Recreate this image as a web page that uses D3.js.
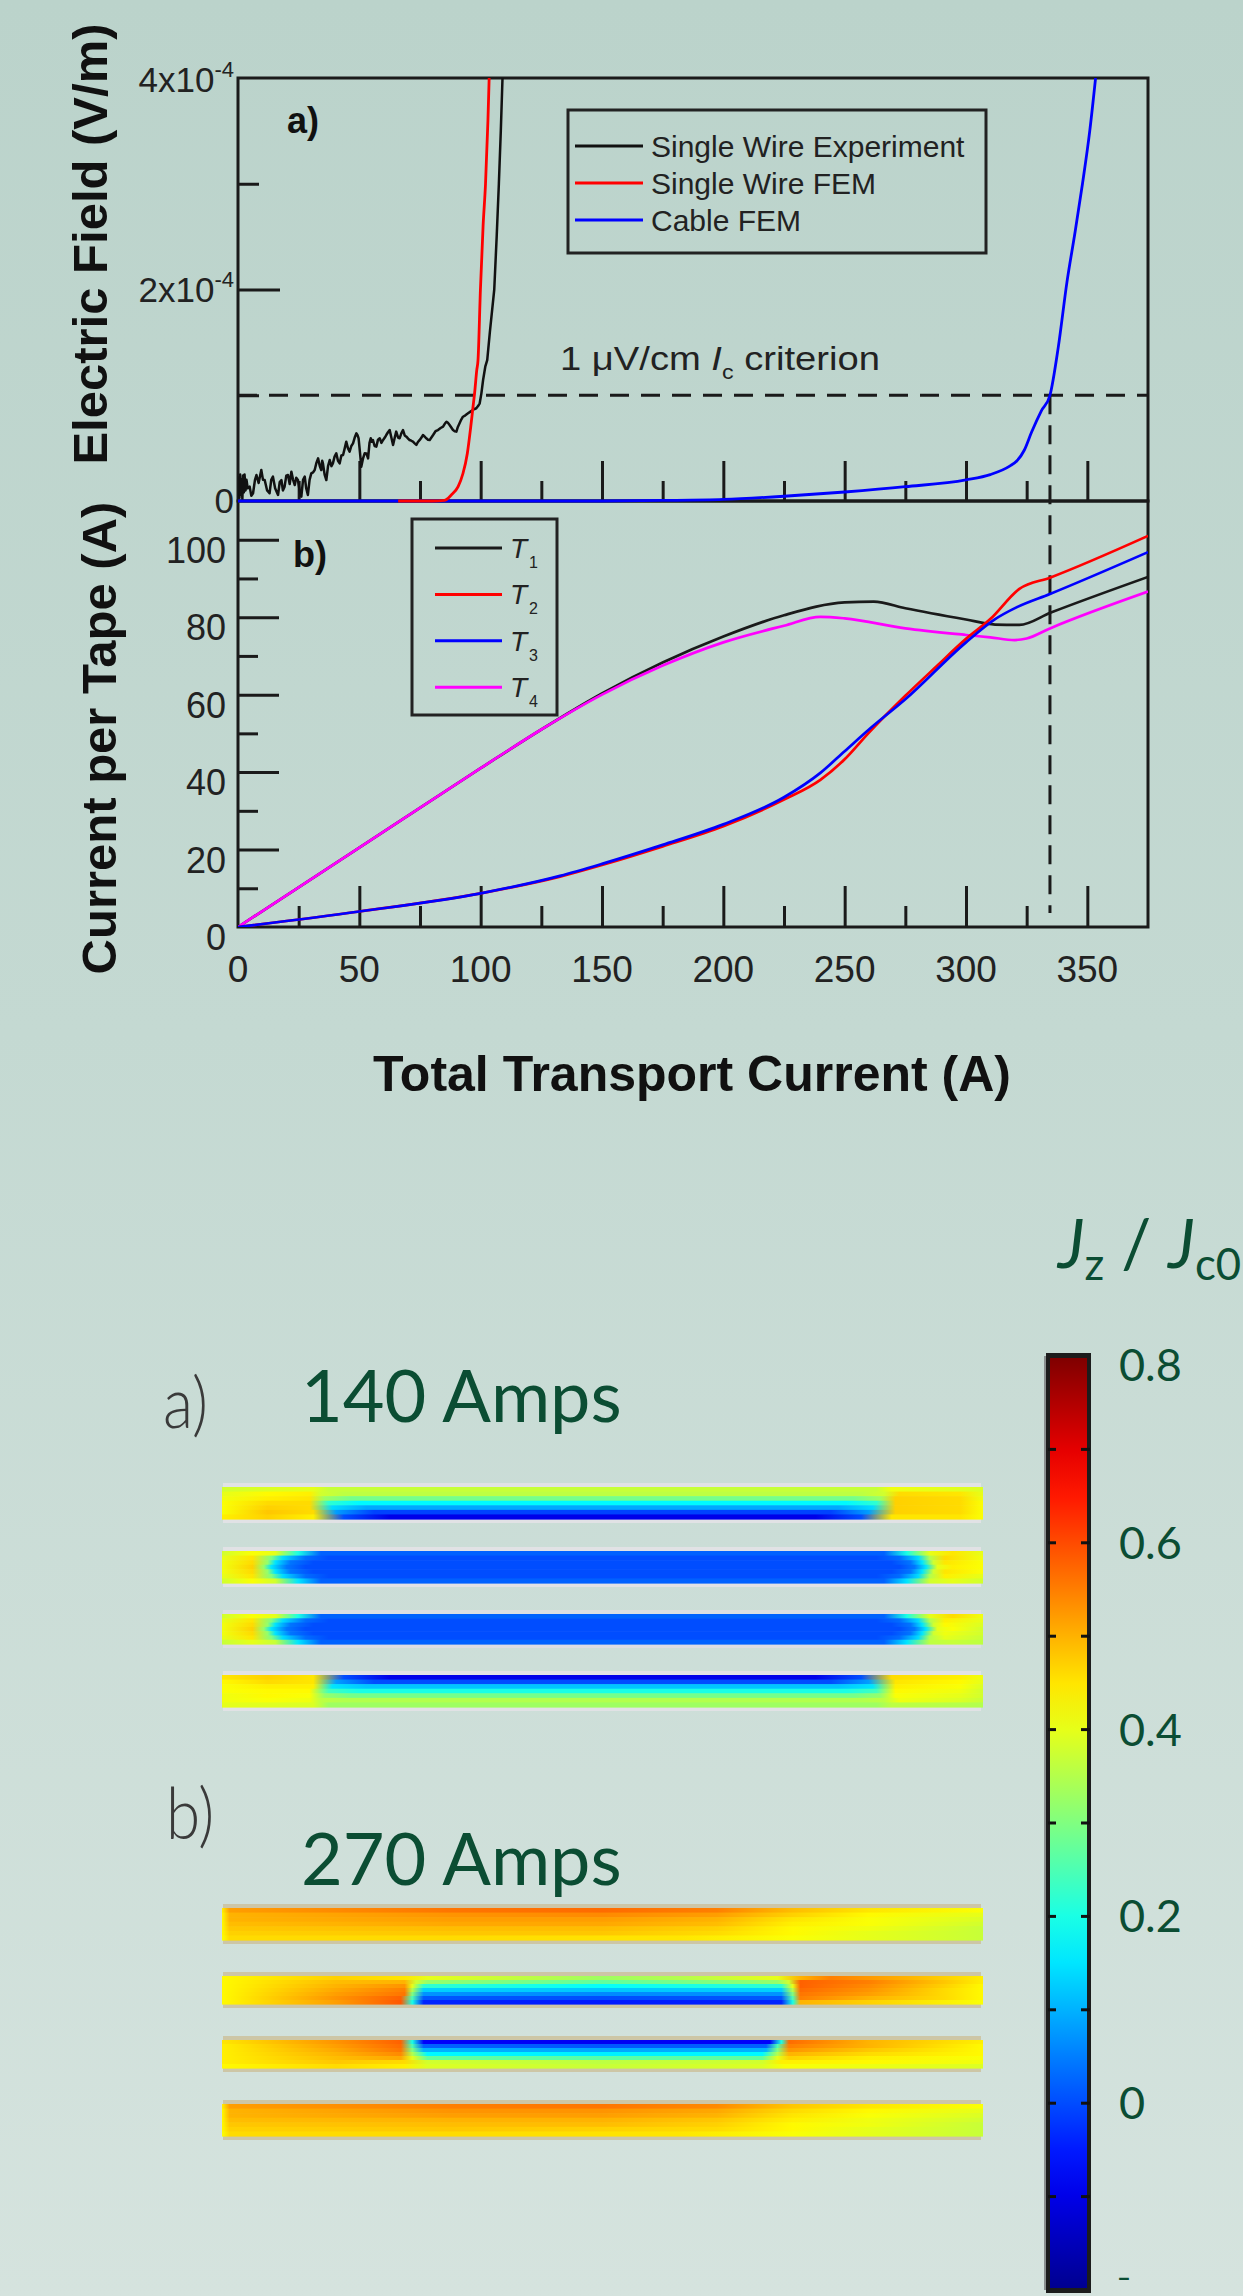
<!DOCTYPE html>
<html><head><meta charset="utf-8">
<script src="https://cdn.jsdelivr.net/npm/d3@7"></script>
<style>html,body{margin:0;padding:0;background:#c8dcd5}svg{display:block}</style>
</head><body>
<svg id="chart" width="1243" height="2296"></svg>
<script>
// ---------------- DATA ----------------
// Panel a) electric field, E in units of 1e-4 V/m vs total transport current (A)
const wireExperiment = [[0,0.05],[0.3,0.22],[0.6,0.03],[0.9,0.25],[1.2,0.06],[1.5,0.2],[1.8,0.02],[2.1,0.24],[2.4,0.08],[2.7,0.25],[3.1,0.1],[3.5,0.2],[4.0,0.12],
[4.8,0.136],[5.5,0.05],[6.2,0.073],[7.0,0.2],[7.6,0.246],[8.5,0.17],[9.6,0.293],[10.3,0.2],[11,0.198],[12,0.1],[13,0.073],[13.7,0.2],[14.4,0.23],[15.3,0.12],[16.5,0.057],[17.2,0.18],[17.9,0.198],[18.5,0.1],[19.2,0.136],[19.9,0.24],[20.6,0.246],[21.3,0.16],[22,0.277],[22.7,0.2],[23.4,0.151],[24,0.22],[24.7,0.198],[25.4,0.1],[26.1,0.041],[26.8,0.2],[27.5,0.23],[28.1,0.12],[28.8,0.057],[29.5,0.2],[30.2,0.261],[30.9,0.27],[31.6,0.293],[32.3,0.36],[33,0.403],[33.7,0.33],[34.3,0.293],[34.7,0.38],[35,0.356],[35.7,0.25],[36.4,0.198],[37.1,0.33],[37.8,0.388],[38.5,0.33],[39.1,0.356],[39.8,0.42],[40.5,0.451],[41.2,0.38],[41.9,0.356],[42.6,0.43],[43.3,0.435],[44,0.5],[44.6,0.561],[45.3,0.5],[46,0.466],[46.7,0.52],[47.4,0.545],[48.1,0.6],[48.8,0.64],[49.3,0.62],[49.7,0.593],[50.3,0.45],[50.8,0.325],[51.5,0.4],[52.2,0.451],[52.9,0.45],[53.6,0.403],[54.2,0.55],[54.7,0.593],[55.2,0.56],[55.6,0.577],[56.3,0.52],[57,0.514],[57.7,0.58],[58.4,0.593],[59.1,0.55],[59.8,0.577],[60.5,0.6],[61.1,0.624],[61.8,0.65],[62.5,0.671],[63.2,0.6],[63.9,0.53],[64.6,0.6],[65.2,0.656],[66,0.6],[66.6,0.593],[67.3,0.64],[68,0.671],[68.7,0.62],[69.4,0.608],[70.1,0.59],[70.7,0.577],[71.4,0.57],[72.1,0.561],[72.8,0.545],[73.5,0.53],[74.2,0.56],[74.9,0.577],[75.6,0.6],[76.2,0.624],[76.9,0.61],[77.6,0.593],[78.3,0.58],[79,0.577],[79.7,0.6],[80.4,0.624],[81.4,0.66],[82.4,0.671],[83.5,0.69],[84.5,0.703],[85.2,0.73],[85.9,0.75],[86.5,0.74],[87.2,0.719],[88.6,0.671],[89.3,0.66],[90,0.656],[90.6,0.7],[91.3,0.735],[92,0.77],[92.7,0.797],[93.7,0.81],[94.8,0.829],[95.8,0.845],[96.8,0.861],[97.5,0.87],[98.2,0.877],[99,0.9],[99.6,0.924],[100.3,1.018],[101,1.144],[101.9,1.27],[102.7,1.333],[103.8,1.6],[105.6,2.0],[106.6,2.5],[107.5,3.0],[108.3,3.5],[109,4.0]];
const wireFEM = [[66,0],[80,0],[85,0.005],[87.9,0.057],[90.7,0.136],[92.7,0.26],[94.5,0.45],[95.9,0.70],[96.8,0.88],[97.5,1.02],[98.4,1.24],[98.9,1.33],[99.9,2.0],[101,2.6],[102,3.0],[103,3.6],[103.5,4.0]];
const cableFEM = [[0,0],[150,0],[175,0.005],[200,0.015],[225,0.045],[250,0.085],[275,0.135],[300,0.2],[310,0.25],[318,0.33],[321,0.38],[324,0.48],[327,0.65],[331,0.85],[334.6,1.0],[338,1.45],[341.6,2.07],[345,2.55],[348,3.0],[351,3.5],[353.4,4.0]];
const criterionField = 1.0;      // 1 uV/cm = 1e-4 V/m
const cableIc = 334.6;           // A

// Panel b) current per tape (A)
const tapeT1 = [[0,0],[50,20.5],[100,41],[125,51],[150,60.3],[175,68.3],[200,75],[225,80.5],[250,83.8],[262,84],[275,82.3],[300,79.4],[312,78.1],[322,78],[335,81.2],[375,90.4]];
const tapeT2 = [[0,0],[50,4],[100,8.7],[132.7,13],[150,16],[175,20.8],[200,26],[225,32.9],[240,38],[250,43.3],[260,50.2],[275,59.7],[288,67.4],[300,74.4],[310,79.5],[322,87.3],[334.6,90.2],[375,101]];
const tapeT3 = [[0,0],[50,4],[100,8.7],[132.7,13.2],[150,16.3],[175,21.2],[200,26.5],[225,33.5],[240,39.8],[250,45.4],[260,51],[275,58.8],[300,73.5],[312,79.5],[321,82.6],[334.6,86],[375,96.8]];
const tapeT4 = [[0,0],[50,20.5],[100,41],[125,51],[150,60],[175,67.5],[200,73.5],[225,77.8],[240,80.1],[250,79.7],[275,77.1],[300,75.4],[310,74.8],[320,74.1],[325,74.5],[334.6,77.1],[375,86.6]];

const currentMajorTicks = [50,100,150,200,250,300,350];
const currentMinorTicks = [25,75,125,175,225,275,325];
const currentTickLabels = [0,50,100,150,200,250,300,350];
const fieldMajorTicks = [2];
const fieldMinorTicks = [1,3];
const fieldTickLabels = [["4x10","-4",4],["2x10","-4",2],["0","",0]];
const tapeMajorTicks = [20,40,60,80,100];
const tapeMinorTicks = [10,30,50,70,90];
const tapeTickLabels = [0,20,40,60,80,100];

const legendA = ["Single Wire Experiment","Single Wire FEM","Cable FEM"];
const legendAColors = ["#111111","#ff0000","#0000ff"];
const legendB = ["1","2","3","4"];
const tapeColors = ["#1a1a1a","#ff0000","#0000ff","#ff00ff"];

// Bottom: Jz/Jc0 maps (rows top->bottom, each row: [fraction along tape, Jz/Jc0])
const map140_T1 = [
 [[0,0.38],[0.12,0.40],[0.14,0.37],[0.86,0.37],[0.88,0.41],[1,0.39]],
 [[0,0.40],[0.06,0.43],[0.115,0.44],[0.13,0.38],[0.16,0.36],[0.84,0.36],[0.87,0.38],[0.89,0.46],[0.97,0.45],[1,0.40]],
 [[0,0.41],[0.06,0.44],[0.115,0.45],[0.135,0.33],[0.17,0.29],[0.83,0.29],[0.865,0.33],[0.885,0.47],[0.97,0.46],[1,0.41]],
 [[0,0.42],[0.06,0.46],[0.115,0.46],[0.14,0.22],[0.18,0.17],[0.82,0.17],[0.86,0.22],[0.885,0.47],[0.97,0.46],[1,0.42]],
 [[0,0.42],[0.06,0.47],[0.115,0.46],[0.145,0.14],[0.19,0.09],[0.81,0.09],[0.855,0.14],[0.885,0.47],[0.97,0.46],[1,0.42]],
 [[0,0.42],[0.06,0.48],[0.12,0.46],[0.15,0.08],[0.2,-0.01],[0.8,-0.01],[0.85,0.08],[0.885,0.47],[0.97,0.46],[1,0.42]],
 [[0,0.44],[0.06,0.47],[0.12,0.44],[0.16,0.0],[0.22,-0.1],[0.78,-0.1],[0.84,0.0],[0.88,0.45],[0.97,0.45],[1,0.42]]];
const map140_T2 = [
 [[0,0.38],[0.04,0.42],[0.07,0.40],[0.1,0.2],[0.13,0.02],[0.87,0.02],[0.9,0.2],[0.93,0.40],[0.96,0.45],[1,0.40]],
 [[0,0.40],[0.04,0.45],[0.065,0.30],[0.08,0.14],[0.11,0.03],[0.14,0.0],[0.86,0.0],[0.89,0.03],[0.915,0.14],[0.93,0.35],[0.95,0.46],[1,0.41]],
 [[0,0.41],[0.04,0.46],[0.06,0.32],[0.07,0.15],[0.09,0.04],[0.12,0.0],[0.88,0.0],[0.905,0.04],[0.92,0.15],[0.935,0.38],[0.95,0.45],[1,0.42]],
 [[0,0.41],[0.04,0.47],[0.055,0.32],[0.065,0.15],[0.085,0.04],[0.11,0.0],[0.89,0.0],[0.91,0.04],[0.925,0.15],[0.94,0.40],[0.96,0.44],[1,0.42]],
 [[0,0.41],[0.04,0.46],[0.06,0.32],[0.07,0.15],[0.09,0.04],[0.12,0.0],[0.88,0.0],[0.905,0.04],[0.92,0.15],[0.935,0.38],[0.95,0.45],[1,0.42]],
 [[0,0.40],[0.04,0.45],[0.065,0.30],[0.08,0.14],[0.11,0.03],[0.14,0.0],[0.86,0.0],[0.89,0.03],[0.915,0.14],[0.93,0.35],[0.95,0.44],[1,0.40]],
 [[0,0.38],[0.04,0.42],[0.07,0.38],[0.1,0.15],[0.13,0.02],[0.87,0.02],[0.9,0.15],[0.93,0.38],[0.96,0.40],[1,0.38]]];
const map140_T3 = [
 [[0,0.38],[0.04,0.42],[0.07,0.40],[0.1,0.2],[0.13,0.02],[0.87,0.02],[0.9,0.2],[0.93,0.40],[0.96,0.46],[1,0.41]],
 [[0,0.40],[0.04,0.45],[0.065,0.30],[0.08,0.14],[0.11,0.03],[0.14,0.0],[0.86,0.0],[0.89,0.03],[0.915,0.14],[0.93,0.35],[0.95,0.44],[1,0.40]],
 [[0,0.41],[0.04,0.46],[0.06,0.32],[0.07,0.15],[0.09,0.04],[0.12,0.0],[0.88,0.0],[0.905,0.04],[0.92,0.15],[0.935,0.38],[0.95,0.43],[1,0.39]],
 [[0,0.41],[0.04,0.47],[0.055,0.32],[0.065,0.15],[0.085,0.04],[0.11,0.0],[0.89,0.0],[0.91,0.04],[0.925,0.15],[0.94,0.40],[0.96,0.42],[1,0.38]],
 [[0,0.41],[0.04,0.46],[0.06,0.32],[0.07,0.15],[0.09,0.04],[0.12,0.0],[0.88,0.0],[0.905,0.04],[0.92,0.15],[0.935,0.38],[0.95,0.41],[1,0.38]],
 [[0,0.40],[0.04,0.45],[0.065,0.30],[0.08,0.14],[0.11,0.03],[0.14,0.0],[0.86,0.0],[0.89,0.03],[0.915,0.14],[0.93,0.35],[0.95,0.40],[1,0.37]],
 [[0,0.37],[0.04,0.40],[0.07,0.37],[0.1,0.15],[0.13,0.02],[0.87,0.02],[0.9,0.15],[0.93,0.36],[0.96,0.37],[1,0.36]]];
const map140_T4 = [
 [[0,0.45],[0.06,0.47],[0.12,0.45],[0.16,0.0],[0.22,-0.1],[0.78,-0.1],[0.84,0.0],[0.88,0.46],[0.97,0.44],[1,0.41]],
 [[0,0.43],[0.06,0.46],[0.12,0.45],[0.15,0.08],[0.2,0.0],[0.8,0.0],[0.85,0.08],[0.885,0.45],[0.97,0.43],[1,0.40]],
 [[0,0.42],[0.06,0.44],[0.12,0.44],[0.145,0.15],[0.19,0.12],[0.81,0.12],[0.855,0.15],[0.885,0.44],[0.97,0.42],[1,0.39]],
 [[0,0.42],[0.06,0.43],[0.115,0.43],[0.14,0.24],[0.18,0.2],[0.82,0.2],[0.86,0.24],[0.885,0.43],[0.97,0.41],[1,0.38]],
 [[0,0.41],[0.06,0.43],[0.115,0.42],[0.135,0.32],[0.17,0.29],[0.83,0.29],[0.865,0.32],[0.885,0.42],[0.97,0.40],[1,0.38]],
 [[0,0.41],[0.06,0.42],[0.115,0.41],[0.13,0.36],[0.16,0.35],[0.84,0.35],[0.87,0.36],[0.89,0.41],[0.97,0.39],[1,0.37]],
 [[0,0.40],[0.12,0.39],[0.14,0.33],[0.86,0.33],[0.88,0.36],[1,0.35]]];
const map270_T1 = [
 [[0,0.44],[0.01,0.52],[0.3,0.56],[0.5,0.57],[0.65,0.55],[0.75,0.49],[0.85,0.45],[1,0.42]],
 [[0,0.43],[0.01,0.5],[0.3,0.53],[0.5,0.54],[0.65,0.52],[0.75,0.47],[0.85,0.43],[1,0.40]],
 [[0,0.43],[0.01,0.5],[0.3,0.52],[0.5,0.52],[0.65,0.5],[0.75,0.45],[0.85,0.42],[1,0.39]],
 [[0,0.43],[0.01,0.49],[0.3,0.51],[0.5,0.51],[0.65,0.49],[0.75,0.44],[0.85,0.42],[1,0.38]],
 [[0,0.43],[0.01,0.48],[0.3,0.49],[0.5,0.49],[0.65,0.47],[0.75,0.43],[0.85,0.41],[1,0.37]],
 [[0,0.43],[0.01,0.47],[0.3,0.48],[0.5,0.48],[0.65,0.46],[0.75,0.43],[0.85,0.40],[1,0.37]],
 [[0,0.42],[0.01,0.46],[0.3,0.46],[0.6,0.45],[0.75,0.42],[1,0.37]]];
const map270_T2 = [
 [[0,0.43],[0.15,0.47],[0.24,0.45],[0.27,0.40],[0.4,0.36],[0.5,0.33],[0.6,0.35],[0.73,0.40],[0.76,0.50],[0.8,0.55],[0.9,0.5],[1,0.44]],
 [[0,0.43],[0.15,0.49],[0.24,0.5],[0.255,0.38],[0.27,0.32],[0.5,0.27],[0.73,0.32],[0.745,0.38],[0.76,0.58],[0.85,0.55],[0.95,0.48],[1,0.44]],
 [[0,0.43],[0.15,0.5],[0.24,0.53],[0.25,0.4],[0.265,0.22],[0.5,0.18],[0.735,0.22],[0.75,0.4],[0.76,0.58],[0.85,0.54],[0.95,0.47],[1,0.43]],
 [[0,0.43],[0.15,0.51],[0.24,0.55],[0.25,0.35],[0.265,0.13],[0.5,0.12],[0.735,0.13],[0.75,0.35],[0.76,0.57],[0.85,0.53],[0.95,0.46],[1,0.43]],
 [[0,0.43],[0.15,0.52],[0.24,0.56],[0.25,0.3],[0.265,0.07],[0.5,0.06],[0.735,0.07],[0.75,0.3],[0.76,0.56],[0.85,0.52],[0.95,0.46],[1,0.43]],
 [[0,0.43],[0.15,0.53],[0.235,0.58],[0.25,0.25],[0.265,0.01],[0.5,0.0],[0.735,0.01],[0.75,0.25],[0.76,0.55],[0.85,0.5],[0.95,0.46],[1,0.43]],
 [[0,0.43],[0.15,0.52],[0.235,0.59],[0.25,0.2],[0.265,-0.04],[0.5,-0.05],[0.735,-0.04],[0.75,0.2],[0.76,0.5],[0.85,0.47],[1,0.42]]];
const map270_T3 = [
 [[0,0.45],[0.15,0.53],[0.235,0.58],[0.25,0.2],[0.265,-0.08],[0.5,-0.09],[0.72,-0.08],[0.735,0.2],[0.745,0.57],[0.85,0.5],[1,0.44]],
 [[0,0.44],[0.15,0.52],[0.235,0.57],[0.25,0.25],[0.265,0.02],[0.5,0.01],[0.715,0.02],[0.73,0.25],[0.745,0.55],[0.85,0.5],[1,0.43]],
 [[0,0.44],[0.15,0.51],[0.235,0.56],[0.25,0.3],[0.265,0.1],[0.5,0.09],[0.715,0.1],[0.73,0.3],[0.745,0.53],[0.85,0.48],[1,0.43]],
 [[0,0.44],[0.15,0.5],[0.235,0.54],[0.25,0.35],[0.27,0.17],[0.5,0.16],[0.71,0.17],[0.73,0.35],[0.745,0.5],[0.85,0.46],[1,0.43]],
 [[0,0.44],[0.15,0.49],[0.235,0.51],[0.25,0.4],[0.27,0.27],[0.5,0.26],[0.71,0.27],[0.73,0.4],[0.745,0.47],[0.85,0.44],[1,0.42]],
 [[0,0.44],[0.15,0.48],[0.24,0.46],[0.27,0.38],[0.5,0.36],[0.71,0.38],[0.735,0.44],[0.85,0.43],[1,0.41]],
 [[0,0.43],[0.15,0.46],[0.24,0.44],[0.27,0.39],[0.5,0.37],[0.71,0.39],[0.74,0.42],[1,0.39]]];
const map270_T4 = [
 [[0,0.44],[0.01,0.52],[0.3,0.55],[0.5,0.56],[0.65,0.54],[0.75,0.48],[0.85,0.45],[1,0.42]],
 [[0,0.43],[0.01,0.5],[0.3,0.53],[0.5,0.53],[0.65,0.51],[0.75,0.46],[0.85,0.43],[1,0.40]],
 [[0,0.43],[0.01,0.5],[0.3,0.52],[0.5,0.52],[0.65,0.5],[0.75,0.45],[0.85,0.42],[1,0.39]],
 [[0,0.43],[0.01,0.49],[0.3,0.5],[0.5,0.5],[0.65,0.48],[0.75,0.44],[0.85,0.41],[1,0.38]],
 [[0,0.43],[0.01,0.48],[0.3,0.49],[0.5,0.49],[0.65,0.47],[0.75,0.43],[0.85,0.41],[1,0.37]],
 [[0,0.43],[0.01,0.47],[0.3,0.48],[0.5,0.47],[0.65,0.46],[0.75,0.43],[0.85,0.40],[1,0.37]],
 [[0,0.42],[0.01,0.46],[0.3,0.46],[0.6,0.45],[0.75,0.42],[1,0.37]]];
const colorbarTicks = [-0.1,0,0.1,0.2,0.3,0.4,0.5,0.6,0.7];
const colorbarLabels = [["0.8",0.8],["0.6",0.6],["0.4",0.4],["0.2",0.2],["0",0]];
const colorbarCutLabel = "\u2013";   // cut-off "-0.2" label at the bottom edge
const mapTitles = ["140 Amps","270 Amps"];

// ---------------- DRAW ----------------
const svg = d3.select("#chart");
const defs = svg.append("defs");
const bg = defs.append("linearGradient").attr("id","bg").attr("x1",0).attr("x2",0).attr("y1",0).attr("y2",1);
bg.append("stop").attr("offset","0%").attr("stop-color","#bbd3cb");
bg.append("stop").attr("offset","45%").attr("stop-color","#c4d9d2");
bg.append("stop").attr("offset","100%").attr("stop-color","#d5e3de");
svg.append("rect").attr("width",1243).attr("height",2296).attr("fill","url(#bg)");

const ARIAL = "'Liberation Sans', Arial, sans-serif";
const INK = "#1a1a1a";
const x = d3.scaleLinear().domain([0,375]).range([238,1148]);
const yA = d3.scaleLinear().domain([0,4]).range([501,78]);
const yB = d3.scaleLinear().domain([0,110]).range([927,501]);

defs.append("clipPath").attr("id","clipA").append("rect").attr("x",238).attr("y",78).attr("width",910).attr("height",425);
defs.append("clipPath").attr("id","clipB").append("rect").attr("x",238).attr("y",501).attr("width",910).attr("height",426);

function styleAxis(g){ g.select(".domain").remove(); g.selectAll(".tick line").attr("stroke",INK).attr("stroke-width",3); }

// panel a ticks
svg.append("g").attr("transform","translate(0,501)").call(d3.axisBottom(x).tickValues(currentMajorTicks).tickSize(-40).tickFormat("")).call(styleAxis);
svg.append("g").attr("transform","translate(0,501)").call(d3.axisBottom(x).tickValues(currentMinorTicks).tickSize(-20).tickFormat("")).call(styleAxis);
svg.append("g").attr("transform","translate(238,0)").call(d3.axisLeft(yA).tickValues(fieldMajorTicks).tickSize(-42).tickFormat("")).call(styleAxis);
svg.append("g").attr("transform","translate(238,0)").call(d3.axisLeft(yA).tickValues(fieldMinorTicks).tickSize(-21).tickFormat("")).call(styleAxis);
// panel b ticks
svg.append("g").attr("transform","translate(0,927)").call(d3.axisBottom(x).tickValues(currentMajorTicks).tickSize(-41).tickFormat("")).call(styleAxis);
svg.append("g").attr("transform","translate(0,927)").call(d3.axisBottom(x).tickValues(currentMinorTicks).tickSize(-21).tickFormat("")).call(styleAxis);
svg.append("g").attr("transform","translate(238,0)").call(d3.axisLeft(yB).tickValues(tapeMajorTicks).tickSize(-41).tickFormat("")).call(styleAxis);
svg.append("g").attr("transform","translate(238,0)").call(d3.axisLeft(yB).tickValues(tapeMinorTicks).tickSize(-20).tickFormat("")).call(styleAxis);

// tick labels
const xl = svg.append("g").attr("font-family",ARIAL).attr("font-size",37).attr("fill","#222");
xl.selectAll("text").data(currentTickLabels).join("text").attr("x",d=>x(d)).attr("y",982).attr("text-anchor","middle").text(d=>d);
const bl = svg.append("g").attr("font-family",ARIAL).attr("font-size",36).attr("fill","#222");
bl.selectAll("text").data(tapeTickLabels).join("text").attr("x",226).attr("y",d=>yB(d)+23).attr("text-anchor","end").text(d=>d);
const al = svg.append("g").attr("font-family",ARIAL).attr("fill","#222");
fieldTickLabels.forEach(([m,e,v])=>{
  const t = al.append("text").attr("x",234).attr("y",yA(v)+ (v===0?12:(v===4?14:12))).attr("text-anchor","end").attr("font-size",35);
  t.append("tspan").text(m);
  if(e) t.append("tspan").attr("font-size",22).attr("dy",-15).text(e);
});

// frames (curves drawn over them, as in the original)
svg.append("rect").attr("x",238).attr("y",78).attr("width",910).attr("height",423).attr("fill","none").attr("stroke",INK).attr("stroke-width",3);
svg.append("rect").attr("x",238).attr("y",501).attr("width",910).attr("height",426).attr("fill","none").attr("stroke",INK).attr("stroke-width",3);

// criterion dashed lines
svg.append("line").attr("x1",x(0)).attr("x2",x(375)).attr("y1",yA(criterionField)).attr("y2",yA(criterionField))
  .attr("stroke",INK).attr("stroke-width",3).attr("stroke-dasharray","19,12");
svg.append("line").attr("x1",x(cableIc)).attr("x2",x(cableIc)).attr("y1",yA(criterionField)).attr("y2",913)
  .attr("stroke",INK).attr("stroke-width",3).attr("stroke-dasharray","19,11");

// panel a curves
const lineA = d3.line().x(d=>x(d[0])).y(d=>yA(d[1]));
const gA = svg.append("g").attr("clip-path","url(#clipA)").attr("fill","none");
gA.append("path").datum(wireExperiment).attr("d",lineA).attr("stroke","#111").attr("stroke-width",2.5).attr("stroke-linejoin","round");
gA.append("path").datum(cableFEM).attr("d",lineA.curve(d3.curveMonotoneX)).attr("stroke","#0000ff").attr("stroke-width",2.8);
gA.append("path").datum(wireFEM).attr("d",lineA.curve(d3.curveMonotoneX)).attr("stroke","#ff0000").attr("stroke-width",2.8);

// panel b curves
const lineB = d3.line().x(d=>x(d[0])).y(d=>yB(d[1])).curve(d3.curveMonotoneX);
const gB = svg.append("g").attr("clip-path","url(#clipB)").attr("fill","none");
[[tapeT1,tapeColors[0]],[tapeT4,tapeColors[3]],[tapeT2,tapeColors[1]],[tapeT3,tapeColors[2]]].forEach(([s,c])=>{
  gB.append("path").datum(s).attr("d",lineB).attr("stroke",c).attr("stroke-width",2.7);
});

// criterion text
const crit = svg.append("text").attr("font-family",ARIAL).attr("font-size",33).attr("fill","#222")
  .attr("transform","translate(560,370)");
crit.append("tspan").text("1 \u03BCV/cm ");
crit.append("tspan").attr("font-style","italic").text("I");
crit.append("tspan").attr("font-size",20).attr("dy",9).text("c");
crit.append("tspan").attr("dy",-9).text(" criterion");
{ const w = crit.node().getComputedTextLength(); crit.attr("transform",`translate(560,370) scale(${320/w},1)`); }

// panel labels
svg.append("text").attr("x",287).attr("y",133).attr("font-family",ARIAL).attr("font-weight","bold").attr("font-size",36).attr("fill","#111").text("a)");
svg.append("text").attr("x",293).attr("y",567).attr("font-family",ARIAL).attr("font-weight","bold").attr("font-size",36).attr("fill","#111").text("b)");

// legend a
svg.append("rect").attr("x",568).attr("y",110).attr("width",418).attr("height",143).attr("fill","none").attr("stroke","#222").attr("stroke-width",3);
legendA.forEach((t,i)=>{
  const yy = 146 + i*37;
  svg.append("line").attr("x1",575).attr("x2",643).attr("y1",yy).attr("y2",yy).attr("stroke",legendAColors[i]).attr("stroke-width",3);
  svg.append("text").attr("x",651).attr("y",yy+11).attr("font-family",ARIAL).attr("font-size",30).attr("fill","#222").text(t);
});
// legend b
svg.append("rect").attr("x",412).attr("y",519).attr("width",145).attr("height",196).attr("fill","none").attr("stroke","#222").attr("stroke-width",3);
legendB.forEach((t,i)=>{
  const yy = 548 + i*46.4;
  svg.append("line").attr("x1",435).attr("x2",502).attr("y1",yy).attr("y2",yy).attr("stroke",tapeColors[i]).attr("stroke-width",3);
  const tx = svg.append("text").attr("x",510).attr("y",yy+10).attr("font-family",ARIAL).attr("font-size",28).attr("fill","#222");
  tx.append("tspan").attr("font-style","italic").text("T");
  tx.append("tspan").attr("font-size",16).attr("dy",10).attr("dx",2).text(t);
});

// axis titles
const titleStyle = s=>s.attr("font-family",ARIAL).attr("font-weight","bold").attr("font-size",49).attr("fill","#111").attr("text-anchor","middle");
svg.append("text").attr("transform","translate(107,244) rotate(-90)").call(titleStyle).text("Electric Field (V/m)");
svg.append("text").attr("transform","translate(116,738) rotate(-90)").call(titleStyle).text("Current per Tape (A)");
svg.append("text").attr("x",692).attr("y",1091).call(titleStyle).attr("font-size",50).text("Total Transport Current (A)");

// ---------------- bottom maps ----------------
const jet = d3.scaleLinear()
  .domain([-0.2,-0.075,0.175,0.425,0.675,0.8])
  .range(["#000090","#0000ff","#00ffff","#ffff00","#ff0000","#800000"]).clamp(true);
const tapeX = d3.scaleLinear().domain([0,1]).range([222,983]);
function drawStrip(rows,y0,y1,frameColor,key){
  svg.append("rect").attr("x",223).attr("y",y0-4).attr("width",758).attr("height",y1-y0+8).attr("fill",frameColor);
  const rh = (y1-y0)/rows.length;
  rows.forEach((row,i)=>{
    const gid = key+"-"+i;
    const g = defs.append("linearGradient").attr("id",gid).attr("x1","0%").attr("x2","100%").attr("y1","0%").attr("y2","0%");
    row.forEach(([f,v])=>g.append("stop").attr("offset",(f*100)+"%").attr("stop-color",jet(v)));
    svg.append("rect").attr("x",tapeX(0)).attr("y",y0+i*rh).attr("width",tapeX(1)-tapeX(0)).attr("height",rh+0.6).attr("fill",`url(#${gid})`);
  });
}
drawStrip(map140_T1,1487,1519,"#e1e2e5","a1");
drawStrip(map140_T2,1551,1583,"#e1e2e5","a2");
drawStrip(map140_T3,1614,1644,"#dcdde2","a3");
drawStrip(map140_T4,1675,1707,"#e1e2e5","a4");
drawStrip(map270_T1,1908,1940,"#cdc6a6","b1");
drawStrip(map270_T2,1976,2004,"#cdc6a6","b2");
drawStrip(map270_T3,2040,2068,"#cdc6a6","b3");
drawStrip(map270_T4,2104,2136,"#cdc6a6","b4");

const GREEN = "#0b4d33";
const LATO = "Lato, 'Open Sans', sans-serif";
svg.append("text").attr("x",301).attr("y",1422).attr("font-family",LATO).attr("font-size",72).attr("fill",GREEN).text(mapTitles[0]);
svg.append("text").attr("x",301).attr("y",1885).attr("font-family",LATO).attr("font-size",72).attr("fill",GREEN).text(mapTitles[1]);
svg.append("text").attr("transform","translate(163,1428) scale(1,1.15)").attr("font-family",LATO).attr("font-weight",300).attr("font-size",62).attr("fill","#3a3a3a").text("a)");
svg.append("text").attr("transform","translate(166,1839) scale(1,1.15)").attr("font-family",LATO).attr("font-weight",300).attr("font-size",62).attr("fill","#3a3a3a").text("b)");
svg.append("text").attr("transform","translate(-9,1836) scale(1,1.15)").attr("font-family",LATO).attr("font-weight",300).attr("font-size",62).attr("fill","#2a2a2a").text("l");

// colorbar
const cb = d3.scaleLinear().domain([-0.2,0.8]).range([2290,1356]);
const cbg = defs.append("linearGradient").attr("id","cbg").attr("x1",0).attr("x2",0).attr("y1",1).attr("y2",0);
d3.range(0,1.0001,0.05).forEach(t=>cbg.append("stop").attr("offset",(t*100)+"%").attr("stop-color",jet(-0.2+t)));
svg.append("rect").attr("x",1046).attr("y",cb(0.8)-3).attr("width",45).attr("height",cb(-0.2)-cb(0.8)+6).attr("fill","#1c1c1c");
svg.append("rect").attr("x",1050).attr("y",cb(0.8)+2).attr("width",37).attr("height",cb(-0.2)-cb(0.8)-4).attr("fill","url(#cbg)");
svg.append("line").attr("x1",1045).attr("x2",1045).attr("y1",cb(0.8)).attr("y2",cb(-0.2)).attr("stroke","#8a8f8f").attr("stroke-width",2);
colorbarTicks.forEach(v=>{
  svg.append("line").attr("x1",1048).attr("x2",1056).attr("y1",cb(v)).attr("y2",cb(v)).attr("stroke","#111").attr("stroke-width",3);
  svg.append("line").attr("x1",1081).attr("x2",1090).attr("y1",cb(v)).attr("y2",cb(v)).attr("stroke","#111").attr("stroke-width",3);
});
colorbarLabels.forEach(([t,v])=>{
  const yy = Math.max(cb(v),1365);
  svg.append("text").attr("x",1119).attr("y",yy+16).attr("font-family",LATO).attr("font-size",45).attr("fill",GREEN).text(t);
});
svg.append("text").attr("x",1117).attr("y",2286).attr("font-family",LATO).attr("font-weight",700).attr("font-size",24).attr("fill",GREEN).text(colorbarCutLabel);
const jt = svg.append("text").attr("x",1058).attr("y",1268).attr("font-family",LATO).attr("font-size",67).attr("fill",GREEN);
jt.append("tspan").attr("font-style","italic").text("J");
jt.append("tspan").attr("font-size",44).attr("dy",12).text("z");
jt.append("tspan").attr("dy",-12).text(" / ");
jt.append("tspan").attr("font-style","italic").text("J");
jt.append("tspan").attr("font-size",44).attr("dy",12).text("c0");
{ const w = jt.node().getComputedTextLength(); if (1058 + w > 1241) jt.attr("textLength", 1241-1058).attr("lengthAdjust","spacingAndGlyphs"); }
</script>
</body></html>
